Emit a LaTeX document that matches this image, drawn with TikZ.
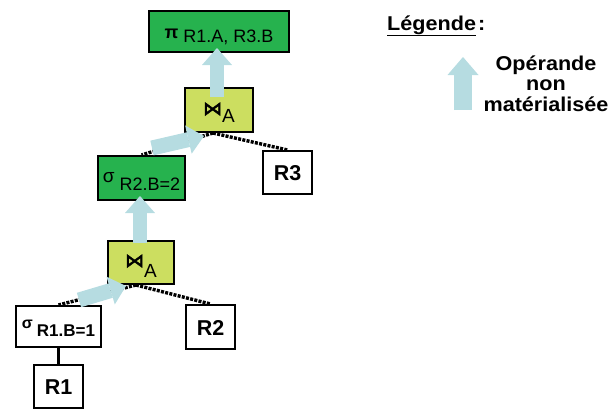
\documentclass[tikz,border=0pt]{standalone}
\usepackage{fontspec}
\setmainfont{Liberation Sans}
\newfontfamily\djv{DejaVu Sans}[FakeBold=2.5]
\newfontfamily\legfont{Liberation Sans}[FakeStretch=1.08]
\usetikzlibrary{arrows.meta,calc}
\definecolor{opgreen}{RGB}{38,178,78}
\definecolor{opyellow}{RGB}{204,222,96}
\definecolor{arrowblue}{RGB}{182,220,225}
\newcommand{\bt}[2]{\raisebox{#1}[0pt][0pt]{#2}}
\begin{document}
\begin{tikzpicture}[x=1pt,y=-1pt,
  box/.style={draw=black, line width=2pt, rectangle, inner sep=0pt},
  edge/.style={line width=3.4pt, dash pattern=on 3pt off 1.3pt},
  link/.style={line width=2.2pt},
  vertarrow/.style={draw=arrowblue, line width=14pt,
    -{Triangle[width=30pt,length=17pt,line width=0pt]}},
  diagarrow/.style={draw=arrowblue, line width=15pt,
    -{Triangle[width=29pt,length=16pt,line width=0pt]}},
  legarrow/.style={draw=arrowblue, line width=18pt,
    -{Triangle[width=31pt,length=18pt,line width=0pt]}},
  opfont/.style={font=\fontsize{18}{20}\selectfont},
  joinfont/.style={font=\fontsize{19}{21}\selectfont},
  rfont/.style={font=\bfseries\fontsize{21.5}{24}\selectfont}
]
\useasboundingbox (0,0) rectangle (614,410);

% boxes
\node[box, fill=opgreen, minimum width=140pt, minimum height=41pt, opfont] (proj) at (219,31.5)
  {\bt{-6.5pt}{\textbf{π} \bt{-4pt}{R1.A, R3.B}}};
\node[box, fill=opyellow, minimum width=68pt, minimum height=44pt, joinfont] (j2) at (219,110)
  {\bt{-5pt}{{\djv\fontsize{19}{21}\selectfont ⋈}\bt{-7pt}{A}}};
\node[box, fill=opgreen, minimum width=87pt, minimum height=44pt, opfont] (s2) at (141.5,178)
  {\bt{-4pt}{{\fontsize{19}{21}\selectfont σ}\hspace{5pt}\bt{-8pt}{R2.B=2}}};
\node[box, fill=white, minimum width=49pt, minimum height=43pt, rfont] (r3) at (287.5,172.5)
  {\bt{-7.5pt}{R3}};
\node[box, fill=opyellow, minimum width=66pt, minimum height=43pt, joinfont] (j1) at (141,262.5)
  {\bt{-4.5pt}{{\djv\fontsize{19}{21}\selectfont ⋈}\bt{-10pt}{A}}};
\node[box, fill=white, minimum width=49pt, minimum height=44pt, rfont] (r2) at (210.5,327)
  {\bt{-8pt}{R2}};
\node[box, fill=white, minimum width=85pt, minimum height=41pt, font=\bfseries\fontsize{17}{19}\selectfont] (s1) at (58.5,326.5)
  {\bt{-2pt}{{\fontsize{16}{18}\selectfont σ}\hspace{4pt}\bt{-8pt}{R1.B=1}}};
\node[box, fill=white, minimum width=49pt, minimum height=43pt, rfont] (r1) at (58.5,386.5)
  {\bt{-7.5pt}{R1}};

% tree connectors
\draw[edge] ($(j1.south)+(-5,0)$) -- (s1.north);
\draw[edge] ($(j1.south)+(-5,0)$) -- (r2.north);
\draw[edge] ($(j2.south)+(-6,0)$) -- (s2.north);
\draw[edge] ($(j2.south)+(-6,0)$) -- (r3.north);
\draw[link] (s1.south) -- (r1.north);

% non-materialised operand arrows
\draw[vertarrow] ($(j2.center)+(-2,-13)$) -- ($(proj.south)+(-2,-5)$);
\draw[vertarrow] ($(j1.north)+(-1,3)$) -- ($(s2.south)+(-1.5,-5)$);
\draw[diagarrow] ($(s2.north)+(10.5,-7)$) -- ($(j2.south west)+(20,3)$);
\draw[diagarrow] ($(s1.north)+(20.5,-5)$) -- ($(j1.south west)+(19,1)$);

% legend
\node[anchor=base west, inner sep=0pt, font=\legfont\bfseries\fontsize{20}{22}\selectfont] (legtitle) at (387,30)
  {\underline{Légende}\hspace{2pt}:};
\coordinate (legtail) at (463,110);
\coordinate (legtip) at (463,57);
\draw[legarrow] (legtail) -- (legtip);
\node[inner sep=0pt, font=\legfont\bfseries\fontsize{20}{20.5}\selectfont] (legtext) at (546,70)
  {\bt{0pt}{\begin{tabular}[t]{@{}c@{}}Opérande\\non\\matérialisée\end{tabular}}};
\end{tikzpicture}
\end{document}
